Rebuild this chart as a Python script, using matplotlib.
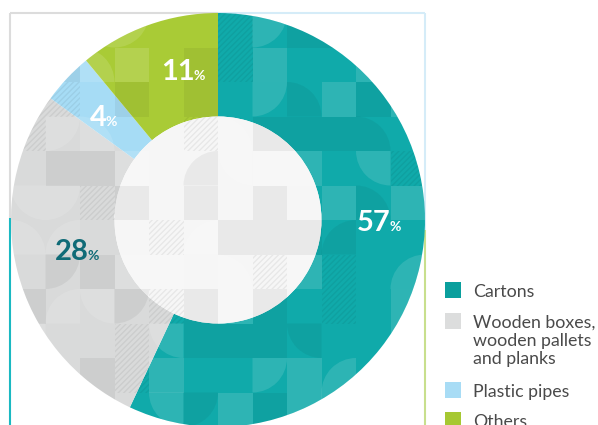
import matplotlib
matplotlib.use("Agg")
import matplotlib.pyplot as plt
from matplotlib.patches import Circle, Rectangle, Wedge

# ---- data ----
categories = ["Cartons", "Wooden boxes,\nwooden pallets\nand planks", "Plastic pipes", "Others"]
values = [57, 28, 4, 11]
labels = ["57", "28", "4", "11"]
colors = ["#10aaaa", "#d9dada", "#a6dcf5", "#a9cb36"]
legend_colors = ["#0a9f9d", "#dcdddd", "#a8dcf5", "#a6c832"]
label_colors = ["white", "#106b77", "white", "white"]

W, H = 598, 425
fig = plt.figure(figsize=(W / 100, H / 100), dpi=100)
ax = fig.add_axes([0, 0, 1, 1])

def Y(y):  # pixel-from-top to data
    return H - y

cx, cy = 218, Y(220)
R_out, R_in = 207, 103.5

# frame lines
ax.plot([10, 218], [Y(13), Y(13)], color="#dcdcdc", lw=1.5, zorder=1, solid_capstyle="butt")
ax.plot([218, 425], [Y(13), Y(13)], color="#d5ecf8", lw=1.5, zorder=1, solid_capstyle="butt")
ax.plot([10, 10], [Y(13), Y(218)], color="#dcdcdc", lw=1.5, zorder=1, solid_capstyle="butt")
ax.plot([10, 10], [Y(218), Y(425)], color="#1ab9c2", lw=1.5, zorder=1, solid_capstyle="butt")
ax.plot([425, 425], [Y(13), Y(230)], color="#d5ecf8", lw=1.5, zorder=1, solid_capstyle="butt")
ax.plot([425, 425], [Y(230), Y(425)], color="#c8df8d", lw=1.5, zorder=1, solid_capstyle="butt")

wedges, _ = ax.pie(values, colors=colors, startangle=90, counterclock=False,
                   radius=R_out, center=(cx, cy),
                   wedgeprops=dict(width=R_out - R_in, linewidth=0))
for w in wedges:
    w.set_zorder(2)

hole = Circle((cx, cy), R_in, facecolor="#f6f6f6", edgecolor="none", zorder=2)
ax.add_patch(hole)

# ---- decorative tile texture (clipped to the disc) ----
clip = Circle((cx, cy), R_out, transform=ax.transData)
s = 34.5
x0, y0 = 11, 13
codes = "L.DQ.HLSD.QL.DHQ"
for i in range(13):
    for j in range(13):
        code = codes[(i * 5 + j * 7 + (i * j) % 3) % len(codes)]
        tx = x0 + i * s
        ty = Y(y0 + (j + 1) * s)
        p = None
        if code == "L":
            p = Rectangle((tx, ty), s, s, facecolor="white", alpha=0.13, lw=0)
        elif code == "D":
            p = Rectangle((tx, ty), s, s, facecolor="black", alpha=0.05, lw=0)
        elif code == "H":
            p2 = Rectangle((tx, ty), s, s, facecolor="none", hatch="//////",
                           edgecolor=(0, 0, 0, 0.06), lw=0)
            p2.set_zorder(3); ax.add_patch(p2); p2.set_clip_path(clip)
        elif code in "QS":
            k = (i + 2 * j) % 4
            corners = [(tx, ty), (tx + s, ty), (tx + s, ty + s), (tx, ty + s)]
            starts = [0, 90, 180, 270]
            c = corners[k]
            p = Wedge(c, s, starts[k], starts[k] + 90,
                      facecolor="white" if code == "Q" else "black",
                      alpha=0.12 if code == "Q" else 0.05, lw=0)
        if p is not None:
            p.set_zorder(3)
            ax.add_patch(p)
            p.set_clip_path(clip)

# ---- value labels ----
label_pos = [(391, 231), (89, 260), (107, 126), (195, 80)]
for lab, (lx, ly), col in zip(labels, label_pos, label_colors):
    ax.text(lx, Y(ly), lab, ha="right", va="baseline", fontsize=21,
            fontweight="bold", family="Lato", color=col, zorder=5)
    ax.text(lx - 1.5, Y(ly), "%", ha="left", va="baseline", fontsize=10,
            fontweight="bold", family="Lato", color=col, zorder=5)

# ---- legend ----
sq = [(445, 282), (445, 313), (445, 382), (445, 412)]
text_lines = [[("Cartons", 297)],
              [("Wooden boxes,", 328), ("wooden pallets", 346), ("and planks", 364)],
              [("Plastic pipes", 397)],
              [("Others", 427)]]
for (sx, sy), col, lines in zip(sq, legend_colors, text_lines):
    ax.add_patch(Rectangle((sx, Y(sy + 15.5)), 15.5, 15.5, facecolor=col, lw=0, zorder=5))
    for t, by in lines:
        ax.text(473, Y(by), t, ha="left", va="baseline", fontsize=12.8,
                family="Lato", color="#4a4a4a", zorder=5)

ax.set_xlim(0, W)
ax.set_ylim(0, H)
ax.set_aspect("auto")
ax.axis("off")
fig.savefig("out.png", dpi=100)
